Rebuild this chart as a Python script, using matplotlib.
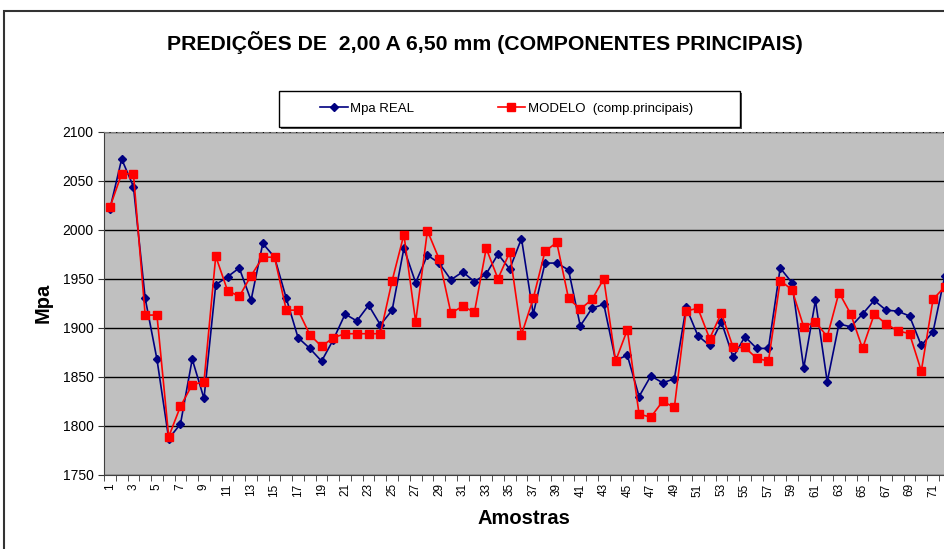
import numpy as np
import matplotlib.pyplot as plt
from matplotlib.patches import Rectangle

plt.rcParams['font.family'] = ['Liberation Sans', 'DejaVu Sans']

# amostras 1..72 (a 72 fica cortada na borda)
amostras = list(range(1, 73))

mpa_real = [2021, 2072, 2044, 1930, 1868, 1787, 1802, 1868, 1828, 1944,
            1952, 1961, 1928, 1986, 1972, 1930, 1890, 1879, 1866, 1888,
            1914, 1907, 1923, 1903, 1918, 1981, 1946, 1974, 1966, 1949,
            1957, 1947, 1955, 1975, 1960, 1991, 1914, 1966, 1966, 1959,
            1902, 1920, 1924, 1867, 1872, 1830, 1851, 1844, 1848, 1921,
            1892, 1882, 1906, 1870, 1891, 1879, 1879, 1961, 1946, 1859,
            1928, 1845, 1904, 1901, 1914, 1928, 1918, 1917, 1912, 1882,
            1896, 1953]

modelo = [2023, 2057, 2057, 1913, 1913, 1789, 1820, 1842, 1845, 1973,
          1938, 1932, 1953, 1972, 1972, 1918, 1918, 1893, 1881, 1890,
          1894, 1894, 1894, 1894, 1948, 1995, 1906, 1999, 1970, 1915,
          1922, 1916, 1981, 1950, 1977, 1893, 1930, 1978, 1987, 1930,
          1919, 1929, 1950, 1866, 1898, 1812, 1809, 1825, 1819, 1917,
          1920, 1889, 1915, 1880, 1880, 1869, 1866, 1948, 1939, 1901,
          1906, 1891, 1936, 1914, 1879, 1914, 1904, 1897, 1894, 1856,
          1929, 1942]

fig = plt.figure(figsize=(9.44, 5.49), dpi=100)
ax = fig.add_axes([0.1102, 0.1348, 0.8898, 0.6255])
ax.set_facecolor('#C0C0C0')

ax.plot(amostras, mpa_real, color='#000080', marker='D', markersize=4.5,
        linewidth=1.2, label='Mpa REAL')
ax.plot(amostras, modelo, color='#FF0000', marker='s', markersize=5.5,
        linewidth=1.2, label='MODELO  (comp.principais)')

ax.set_ylim(1750, 2100)
ax.set_yticks(np.arange(1750, 2101, 50))
ax.set_xlim(0.5, 71.93)
ax.set_xticks(range(1, 72, 2))
ax.set_xticks(np.arange(0.5, 72, 1), minor=True)
ax.tick_params(axis='x', which='major', length=0, labelsize=8.5,
               labelrotation=90, pad=6)
ax.tick_params(axis='x', which='minor', length=4, direction='out', color='#333333')
ax.tick_params(axis='y', length=4, direction='out', labelsize=10, color='#333333')

ax.grid(axis='y', color='black', linewidth=1)
ax.set_axisbelow(True)
ax.spines['right'].set_visible(False)
ax.spines['top'].set_color('#808080')
ax.spines['top'].set_linestyle((0, (4, 2)))
ax.spines['left'].set_color('#404040')
ax.spines['bottom'].set_color('#404040')

ax.set_ylabel('Mpa', fontsize=14.5, fontweight='bold', labelpad=7)
ax.set_xlabel('Amostras', fontsize=14.5, fontweight='bold', labelpad=9)

fig.text(0.514, 0.923, 'PREDIÇÕES DE  2,00 A 6,50 mm (COMPONENTES PRINCIPAIS)',
         ha='center', va='center', fontsize=15.3, fontweight='bold')

leg = fig.legend(loc='center', bbox_to_anchor=(0.5366, 0.8015), ncol=2,
                 fontsize=9.5, frameon=False, columnspacing=6.3,
                 handlelength=2.1, handletextpad=0.2)

# caixa da legenda com sombra
fig.patches.append(Rectangle((281 / 944, 1 - 129 / 549), 461 / 944, 36 / 549,
                             facecolor='#505050', edgecolor='none',
                             transform=fig.transFigure, zorder=2))
fig.patches.append(Rectangle((279 / 944, 1 - 127 / 549), 461 / 944, 36 / 549,
                             facecolor='white', edgecolor='black', linewidth=1,
                             transform=fig.transFigure, zorder=2.5))
leg.set_zorder(5)

# moldura do grafico (cortada a direita e embaixo)
fig.patches.append(Rectangle((4 / 944, -0.1), 1.2, 1.1 - 11 / 549,
                             fill=False, edgecolor='#333333', linewidth=1.5,
                             transform=fig.transFigure))

fig.savefig('out.png', dpi=100)
